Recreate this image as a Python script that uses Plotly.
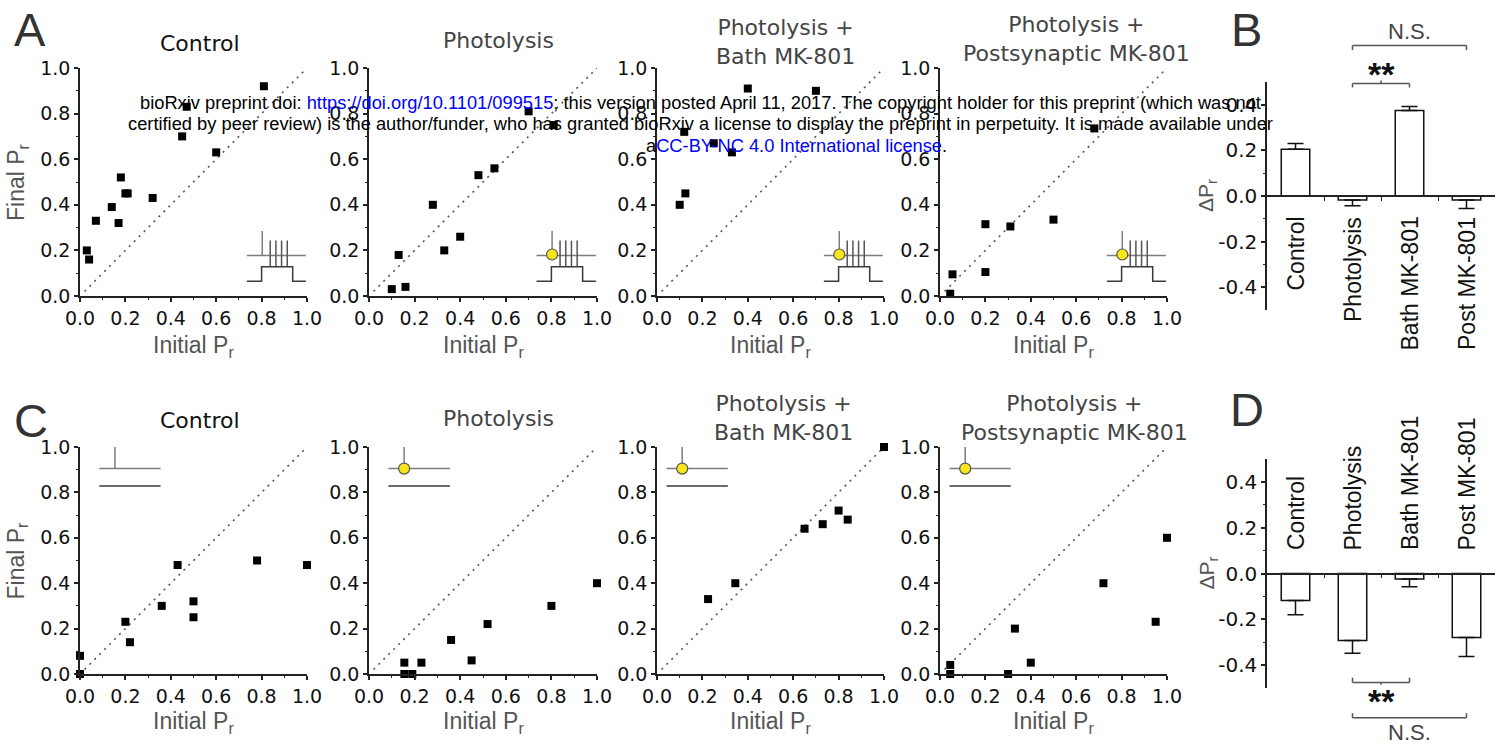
import plotly.graph_objects as go

W, H = 1496, 753
FONT = "DejaVu Sans, Liberation Sans, Arial, sans-serif"
ARIAL = "Liberation Sans, Arial, sans-serif"

# ---------------- data ----------------
top_titles = ["Control", "Photolysis", "Photolysis +<br>Bath MK-801", "Photolysis +<br>Postsynaptic MK-801"]
bottom_titles = ["Control", "Photolysis", "Photolysis +<br>Bath MK-801", "Photolysis +<br>Postsynaptic MK-801"]

a_ctrl_x = [0.03, 0.04, 0.07, 0.14, 0.17, 0.18, 0.20, 0.21, 0.32, 0.45, 0.47, 0.60, 0.81]
a_ctrl_y = [0.20, 0.16, 0.33, 0.39, 0.32, 0.52, 0.45, 0.45, 0.43, 0.70, 0.83, 0.63, 0.92]
a_phot_x = [0.10, 0.16, 0.13, 0.28, 0.33, 0.40, 0.48, 0.55, 0.70, 0.81]
a_phot_y = [0.03, 0.04, 0.18, 0.40, 0.20, 0.26, 0.53, 0.56, 0.81, 0.75]
a_bath_x = [0.10, 0.125, 0.12, 0.25, 0.33, 0.40, 0.70]
a_bath_y = [0.40, 0.45, 0.72, 0.67, 0.63, 0.91, 0.90]
a_post_x = [0.045, 0.055, 0.20, 0.20, 0.31, 0.50, 0.68]
a_post_y = [0.01, 0.095, 0.315, 0.105, 0.305, 0.335, 0.735]

c_ctrl_x = [0.0, 0.0, 0.20, 0.22, 0.36, 0.43, 0.50, 0.50, 0.78, 1.0]
c_ctrl_y = [0.0, 0.08, 0.23, 0.14, 0.30, 0.48, 0.32, 0.25, 0.50, 0.48]
c_phot_x = [0.155, 0.155, 0.19, 0.23, 0.36, 0.45, 0.52, 0.80, 1.0]
c_phot_y = [0.05, 0.0, 0.0, 0.05, 0.15, 0.06, 0.22, 0.30, 0.40]
c_bath_x = [0.225, 0.345, 0.65, 0.73, 0.80, 0.84, 1.0]
c_bath_y = [0.33, 0.40, 0.64, 0.66, 0.72, 0.68, 1.0]
c_post_x = [0.045, 0.045, 0.30, 0.33, 0.40, 0.72, 0.95, 1.0]
c_post_y = [0.04, 0.0, 0.0, 0.20, 0.05, 0.40, 0.23, 0.60]

bar_categories = ["Control", "Photolysis", "Bath MK-801", "Post MK-801"]
b_mean = [0.205, -0.018, 0.375, -0.018]
b_sem = [0.025, 0.025, 0.018, 0.037]
d_mean = [-0.118, -0.293, -0.024, -0.279]
d_sem = [0.062, 0.055, 0.034, 0.083]

scatter_ticks = [0.0, 0.2, 0.4, 0.6, 0.8, 1.0]
scatter_minor = [0.1, 0.3, 0.5, 0.7, 0.9]
bar_ticks = [-0.4, -0.2, 0.0, 0.2, 0.4]
bar_minor = [-0.3, -0.1, 0.1, 0.3]

# ---------------- geometry (pixels of the 1496x753 page) ----------------
col_px = [(80, 307), (369, 597), (657, 884), (940, 1167)]
row_px = [(68, 296), (447, 674)]
bar_x_px = (1267, 1495)
bar_y_px = [(82, 310), (459, 688)]


def xdom(a, b):
    return [a / W, b / W]


def ydom(t, b):
    return [1 - b / H, 1 - t / H]


fig = go.Figure()
layout = dict(
    width=W, height=H, margin=dict(l=0, r=0, t=0, b=0, autoexpand=False),
    paper_bgcolor="white", plot_bgcolor="white", showlegend=False,
    font=dict(family=FONT, color="#111"),
)
annotations = []
shapes = []

AX_LINE = "#222"


def scatter_axes(n, xd, yd):
    kx = "xaxis" if n == 1 else f"xaxis{n}"
    ky = "yaxis" if n == 1 else f"yaxis{n}"
    common = dict(
        range=[0, 1], showgrid=False, zeroline=False, showline=True,
        linecolor=AX_LINE, linewidth=1.5, ticks="outside", ticklen=4, tickwidth=1.5,
        tickcolor=AX_LINE, tickvals=scatter_ticks, tickformat=".1f",
        tickfont=dict(family=FONT, size=19, color="#111"),
        minor=dict(tickvals=scatter_minor, ticks="outside", ticklen=2, tickwidth=1, tickcolor=AX_LINE),
        fixedrange=True, automargin=False,
    )
    layout[kx] = dict(domain=xd, anchor=f"y{n}" if n > 1 else "y", **common)
    layout[ky] = dict(domain=yd, anchor=f"x{n}" if n > 1 else "x", **common)


scatter_sets = [
    (a_ctrl_x, a_ctrl_y), (a_phot_x, a_phot_y), (a_bath_x, a_bath_y), (a_post_x, a_post_y),
    (c_ctrl_x, c_ctrl_y), (c_phot_x, c_phot_y), (c_bath_x, c_bath_y), (c_post_x, c_post_y),
]

title_dx = [0.53, 0.566, 0.564, 0.60, 0.53, 0.566, 0.557, 0.592]
title_up = [25, 28, 26.5, 29, 27, 29, 29, 29.5]
title_col = ["#111", "#444", "#444", "#444", "#111", "#444", "#444", "#444"]

GRAY_H = "#7d7d7d"
TRAIN = "#555"
STEP = "#3a3a3a"
YELLOW = "#f7e61a"

for idx, (xs, ys) in enumerate(scatter_sets):
    n = idx + 1
    row = 0 if idx < 4 else 1
    col = idx % 4
    xd = xdom(*col_px[col])
    yd = ydom(*row_px[row])
    scatter_axes(n, xd, yd)
    xr = "x" if n == 1 else f"x{n}"
    yr = "y" if n == 1 else f"y{n}"

    # identity line
    fig.add_trace(go.Scatter(x=[0.02, 1.0], y=[0.02, 1.0], mode="lines",
                             line=dict(color="#555", width=1.6, dash="2px,5px"),
                             xaxis=xr, yaxis=yr, hoverinfo="skip"))

    # stimulus-protocol inset glyph
    if row == 0:
        fig.add_trace(go.Scatter(x=[0.735, 0.995, None, 0.803, 0.803], y=[0.178, 0.178, None, 0.178, 0.285],
                                 mode="lines", line=dict(color=GRAY_H, width=1.5), xaxis=xr, yaxis=yr, hoverinfo="skip"))
        tx, ty = [], []
        for v in [0.838, 0.863, 0.888, 0.913]:
            tx += [v, v, None]
            ty += [0.128, 0.243, None]
        fig.add_trace(go.Scatter(x=tx, y=ty, mode="lines", line=dict(color=TRAIN, width=1.5),
                                 xaxis=xr, yaxis=yr, hoverinfo="skip"))
        fig.add_trace(go.Scatter(x=[0.735, 0.80, 0.80, 0.937, 0.937, 0.995],
                                 y=[0.065, 0.065, 0.128, 0.128, 0.065, 0.065],
                                 mode="lines", line=dict(color=STEP, width=1.5), xaxis=xr, yaxis=yr, hoverinfo="skip"))
        if col > 0:
            fig.add_trace(go.Scatter(x=[0.803], y=[0.182], mode="markers",
                                     marker=dict(color=YELLOW, size=11, line=dict(color="#555", width=1.2)),
                                     xaxis=xr, yaxis=yr, hoverinfo="skip", cliponaxis=False))
    else:
        x0 = 0.085 if col < 2 else 0.042
        fig.add_trace(go.Scatter(x=[x0, x0 + 0.27, None, x0 + 0.069, x0 + 0.069],
                                 y=[0.905, 0.905, None, 0.905, 1.0],
                                 mode="lines", line=dict(color=GRAY_H, width=1.5), xaxis=xr, yaxis=yr, hoverinfo="skip"))
        fig.add_trace(go.Scatter(x=[x0, x0 + 0.27], y=[0.828, 0.828], mode="lines",
                                 line=dict(color=STEP, width=1.5), xaxis=xr, yaxis=yr, hoverinfo="skip"))
        if col > 0:
            fig.add_trace(go.Scatter(x=[x0 + 0.069], y=[0.905], mode="markers",
                                     marker=dict(color=YELLOW, size=11, line=dict(color="#555", width=1.2)),
                                     xaxis=xr, yaxis=yr, hoverinfo="skip", cliponaxis=False))

    # data points
    fig.add_trace(go.Scatter(x=xs, y=ys, mode="markers",
                             marker=dict(symbol="square", size=8, color="#000"),
                             xaxis=xr, yaxis=yr, cliponaxis=False))

    dref = "x domain" if n == 1 else f"x{n} domain"
    yref = "y domain" if n == 1 else f"y{n} domain"
    titles = top_titles if row == 0 else bottom_titles
    annotations.append(dict(text=titles[col], xref=dref, yref=yref, x=title_dx[idx], y=1,
                            yshift=title_up[idx], xanchor="center", yanchor="middle", showarrow=False,
                            font=dict(family=FONT, size=22, color=title_col[idx])))
    annotations.append(dict(text="Initial P<sub>r</sub>", xref=dref, yref=yref, x=0.5, y=0,
                            yshift=-50 if row == 0 else -48, xanchor="center", yanchor="middle",
                            showarrow=False, font=dict(family=ARIAL, size=23, color="#555")))
    if col == 0:
        annotations.append(dict(text="Final P<sub>r</sub>", xref=dref, yref=yref, x=(17 - 80) / 227, y=0.5,
                                xanchor="center", yanchor="middle", textangle=-90, showarrow=False,
                                font=dict(family=ARIAL, size=23, color="#555")))

# ---------------- bar charts B and D ----------------
for k, (means, sems) in enumerate([(b_mean, b_sem), (d_mean, d_sem)]):
    n = 9 + k
    xd = xdom(*bar_x_px)
    yd = ydom(*bar_y_px[k])
    zero_pos = (yd[0] + yd[1]) / 2
    layout[f"xaxis{n}"] = dict(domain=xd, anchor="free", position=zero_pos, range=[-0.5, 3.5],
                               showgrid=False, zeroline=False, showline=True, linecolor=AX_LINE, linewidth=1.5,
                               tickvals=[0.5, 1.5, 2.5], ticks="outside", ticklen=4, tickwidth=1.2,
                               tickcolor=AX_LINE, showticklabels=False, fixedrange=True, automargin=False)
    layout[f"yaxis{n}"] = dict(domain=yd, anchor=f"x{n}", range=[-0.5, 0.5], showgrid=False, zeroline=False,
                               showline=True, linecolor=AX_LINE, linewidth=1.5, ticks="outside", ticklen=4,
                               tickwidth=1.5, tickcolor=AX_LINE, tickvals=bar_ticks,
                               ticktext=[f"{v:.1f}" for v in bar_ticks],
                               tickfont=dict(family=FONT, size=20, color="#111"),
                               minor=dict(tickvals=bar_minor, ticks="outside", ticklen=2, tickwidth=1,
                                          tickcolor=AX_LINE),
                               fixedrange=True, automargin=False)
    xpos = list(range(len(bar_categories)))
    up = [s if m >= 0 else 0 for m, s in zip(means, sems)]
    dn = [s if m < 0 else 0 for m, s in zip(means, sems)]
    fig.add_trace(go.Bar(x=xpos, y=means, width=0.5,
                         marker=dict(color="white", line=dict(color="#111", width=1.5)),
                         error_y=dict(type="data", symmetric=False, array=up, arrayminus=dn,
                                      color="#111", thickness=1.5, width=8),
                         xaxis=f"x{n}", yaxis=f"y{n}"))
    for i, cat in enumerate(bar_categories):
        annotations.append(dict(text=cat, xref=f"x{n}", yref=f"y{n}", x=i, y=0,
                                yshift=-19 if k == 0 else 21, xanchor="center",
                                yanchor="top" if k == 0 else "bottom", textangle=-90, showarrow=False,
                                font=dict(family=ARIAL, size=23, color="#111")))
    annotations.append(dict(text="ΔP<sub>r</sub>", xref=f"x{n} domain", yref=f"y{n} domain",
                            x=(1207 - 1267) / 228, y=0.5, xanchor="center", yanchor="middle", textangle=-90,
                            showarrow=False, font=dict(family=ARIAL, size=21, color="#555")))

    # significance brackets, in bar-axis data units converted to axis-domain fractions
    def fx(v):
        return (v + 0.5) / 4.0

    def fy(v):
        return (v + 0.5) / 1.0

    xr_ = f"x{n} domain"
    yr_ = f"y{n} domain"
    BR = dict(color="#555", width=1.5)
    if k == 0:
        ns_y, ns_end, st_y, st_end, st_mid = 0.66, 0.64, 0.493, 0.476, 0.507
        ns_txt, st_txt = 0.72, 0.535
    else:
        ns_y, ns_end, st_y, st_end, st_mid = -0.63, -0.61, -0.476, -0.455, -0.486
        ns_txt, st_txt = -0.695, -0.555
    for (xa, ya, xb, yb) in [(1, ns_end, 1, ns_y), (1, ns_y, 3, ns_y), (3, ns_y, 3, ns_end),
                             (1, st_end, 1, st_y), (1, st_y, 2, st_y), (2, st_y, 2, st_end),
                             (1.5, st_y, 1.5, st_mid)]:
        shapes.append(dict(type="line", xref=xr_, yref=yr_, x0=fx(xa), y0=fy(ya), x1=fx(xb), y1=fy(yb),
                           line=BR, layer="above"))
    annotations.append(dict(text="N.S.", xref=xr_, yref=yr_, x=fx(2.0), y=fy(ns_txt), xanchor="center",
                            yanchor="middle", showarrow=False, font=dict(family=ARIAL, size=22, color="#444")))
    annotations.append(dict(text="<b>**</b>", xref=xr_, yref=yr_, x=fx(1.5), y=fy(st_txt), xanchor="center",
                            yanchor="middle", showarrow=False, font=dict(family=ARIAL, size=34, color="#111")))

# ---------------- panel letters ----------------
for letter, px, py in [("A", 30, 30), ("B", 1246, 30), ("C", 31, 421), ("D", 1247, 410)]:
    annotations.append(dict(text=letter, xref="paper", yref="paper", x=px / W, y=1 - py / H,
                            xanchor="center", yanchor="middle", showarrow=False,
                            font=dict(family=ARIAL, size=47, color="#333")))

# ---------------- bioRxiv banner ----------------
BLUE = "#0000ff"
banner = [
    ("bioRxiv preprint doi: <span style='color:%s'>https://doi.org/10.1101/099515</span>; this version posted "
     "April 11, 2017. The copyright holder for this preprint (which was not" % BLUE, 700, 102),
    ("certified by peer review) is the author/funder, who has granted bioRxiv a license to display the preprint "
     "in perpetuity. It is made available under", 700, 124),
    ("a<span style='color:%s'>CC-BY-NC 4.0 International license</span>." % BLUE, 796, 145),
]
for txt, px, py in banner:
    annotations.append(dict(text=txt, xref="paper", yref="paper", x=px / W, y=1 - py / H,
                            xanchor="center", yanchor="middle", showarrow=False,
                            font=dict(family=ARIAL, size=18.3, color="#000")))

layout["annotations"] = annotations
layout["shapes"] = shapes
fig.update_layout(**layout)
fig.write_html("out.html", config={"responsive": False},
               post_script="document.body.style.margin='0';document.body.style.padding='0';"
                           "document.body.style.overflow='hidden';")
